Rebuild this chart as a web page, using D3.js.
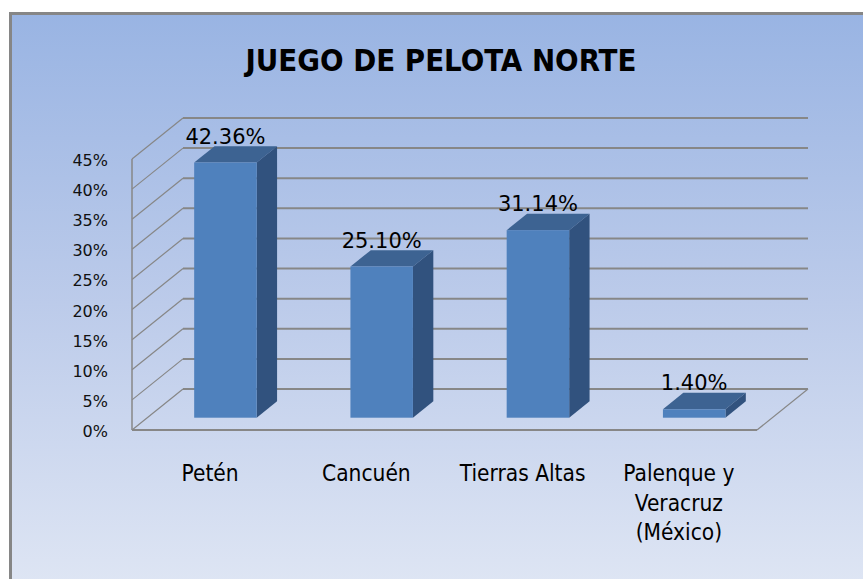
<!DOCTYPE html>
<html>
<head>
<meta charset="utf-8">
<script src="https://cdn.jsdelivr.net/npm/d3@7"></script>
<style>
  html, body { margin: 0; padding: 0; background: #ffffff; }
  svg { display: block; }
</style>
</head>
<body>
<svg id="chart" width="863" height="579"></svg>
<script>
// Chart data
const title = "JUEGO DE PELOTA NORTE";
const categories = ["Petén", "Cancuén", "Tierras Altas", "Palenque y\nVeracruz\n(México)"];
const values = [42.36, 25.10, 31.14, 1.40];
const valueLabels = ["42.36%", "25.10%", "31.14%", "1.40%"];
const tickValues = [0, 5, 10, 15, 20, 25, 30, 35, 40, 45];
const tickLabels = ["0%", "5%", "10%", "15%", "20%", "25%", "30%", "35%", "40%", "45%"];

const svg = d3.select("#chart");
const W = 863, H = 579;

// Background panel with a soft vertical gradient
const defs = svg.append("defs");
const bg = defs.append("linearGradient").attr("id", "bg").attr("x1", 0).attr("y1", 0).attr("x2", 0).attr("y2", 1);
bg.append("stop").attr("offset", "0%").attr("stop-color", "#99b4e3");
bg.append("stop").attr("offset", "50%").attr("stop-color", "#bccbea");
bg.append("stop").attr("offset", "100%").attr("stop-color", "#dfe6f4");

svg.append("rect").attr("x", 10.5).attr("y", 13.5).attr("width", W).attr("height", H)
  .attr("fill", "url(#bg)").attr("stroke", "#868686").attr("stroke-width", 3);

// Title
svg.append("text")
  .attr("x", 441).attr("y", 71)
  .attr("text-anchor", "middle")
  .attr("font-family", "'DejaVu Sans Condensed', 'DejaVu Sans', sans-serif")
  .attr("font-stretch", "condensed")
  .attr("font-weight", "bold")
  .attr("font-size", 31)
  .attr("textLength", 391)
  .attr("lengthAdjust", "spacingAndGlyphs")
  .attr("fill", "#000")
  .text(title);

// Oblique 3D projection: depth 0 = front, 1 = back
const DX = 51, DY = 41;
const x = d3.scaleBand().domain(categories).range([132, 757]);
const y = d3.scaleLinear().domain([0, 45]).range([430, 159]);
const px = (xv, z) => xv + z * DX;
const py = (yv, z) => yv - z * DY;

const gridColor = "#878787";
const x0 = x.range()[0], x1 = x.range()[1];

// Back wall gridlines
svg.append("g").selectAll("line").data(tickValues).join("line")
  .attr("x1", px(x0, 1)).attr("x2", px(x1, 1))
  .attr("y1", d => py(y(d), 1)).attr("y2", d => py(y(d), 1))
  .attr("stroke", gridColor).attr("stroke-width", 2);

// Side wall gridlines
svg.append("g").selectAll("line").data(tickValues).join("line")
  .attr("x1", px(x0, 0)).attr("x2", px(x0, 1))
  .attr("y1", d => y(d)).attr("y2", d => py(y(d), 1))
  .attr("stroke", gridColor).attr("stroke-width", 1.2);

// Side wall front edge and floor outline
const frame = svg.append("g").attr("fill", "none").attr("stroke", gridColor);
frame.append("line").attr("x1", x0).attr("x2", x0).attr("y1", y(0)).attr("y2", y(45)).attr("stroke-width", 1.5);
frame.append("line").attr("x1", x0).attr("x2", x1).attr("y1", y(0)).attr("y2", y(0)).attr("stroke-width", 2);
frame.append("line").attr("x1", px(x1, 0)).attr("x2", px(x1, 1)).attr("y1", y(0)).attr("y2", py(y(0), 1)).attr("stroke-width", 1.2);

// Y axis labels
svg.append("g").selectAll("text").data(tickValues).join("text")
  .attr("x", 108).attr("y", d => y(d) + 7)
  .attr("text-anchor", "end")
  .attr("font-family", "'DejaVu Sans', sans-serif")
  .attr("font-size", 16)
  .attr("fill", "#111")
  .text((d, i) => tickLabels[i]);

// 3D bars
const zF = 0.3, zB = 0.7;
const fracL = 0.3, fracR = 0.7;
const bars = svg.append("g").selectAll("g").data(values).join("g");
const bx = i => x(categories[i]) + x.bandwidth() * fracL;
const bw = x.bandwidth() * (fracR - fracL);

const poly = pts => pts.map(p => p.join(",")).join(" ");

// Top face
bars.append("polygon")
  .attr("points", (d, i) => {
    const l = bx(i), r = l + bw, t = y(d);
    return poly([[px(l, zF), py(t, zF)], [px(r, zF), py(t, zF)], [px(r, zB), py(t, zB)], [px(l, zB), py(t, zB)]]);
  })
  .attr("fill", "#3d6392");
// Side face
bars.append("polygon")
  .attr("points", (d, i) => {
    const r = bx(i) + bw, t = y(d), b = y(0);
    return poly([[px(r, zF), py(t, zF)], [px(r, zB), py(t, zB)], [px(r, zB), py(b, zB)], [px(r, zF), py(b, zF)]]);
  })
  .attr("fill", "#31527e");
// Front face
bars.append("rect")
  .attr("x", (d, i) => px(bx(i), zF))
  .attr("y", d => py(y(d), zF))
  .attr("width", bw)
  .attr("height", d => y(0) - y(d))
  .attr("fill", "#4f81bd");

// Value labels
bars.append("text")
  .attr("x", (d, i) => px(bx(i) + bw / 2, zF))
  .attr("y", d => py(y(d), zB) - 2.5)
  .attr("text-anchor", "middle")
  .attr("font-family", "'DejaVu Sans', sans-serif")
  .attr("font-size", 21)
  .attr("fill", "#000")
  .text((d, i) => valueLabels[i]);

// Category labels
const cat = svg.append("g").selectAll("text").data(categories).join("text")
  .attr("x", d => x(d) + x.bandwidth() / 2)
  .attr("y", 481)
  .attr("text-anchor", "middle")
  .attr("font-family", "'DejaVu Sans Condensed', 'DejaVu Sans', sans-serif")
  .attr("font-stretch", "condensed")
  .attr("font-size", 22.5)
  .attr("fill", "#000");
cat.each(function(d) {
  const t = d3.select(this);
  const cx = t.attr("x");
  d.split("\n").forEach((line, k) => {
    t.append("tspan").attr("x", cx).attr("dy", k === 0 ? 0 : 29.5).text(line);
  });
});
</script>
</body>
</html>
